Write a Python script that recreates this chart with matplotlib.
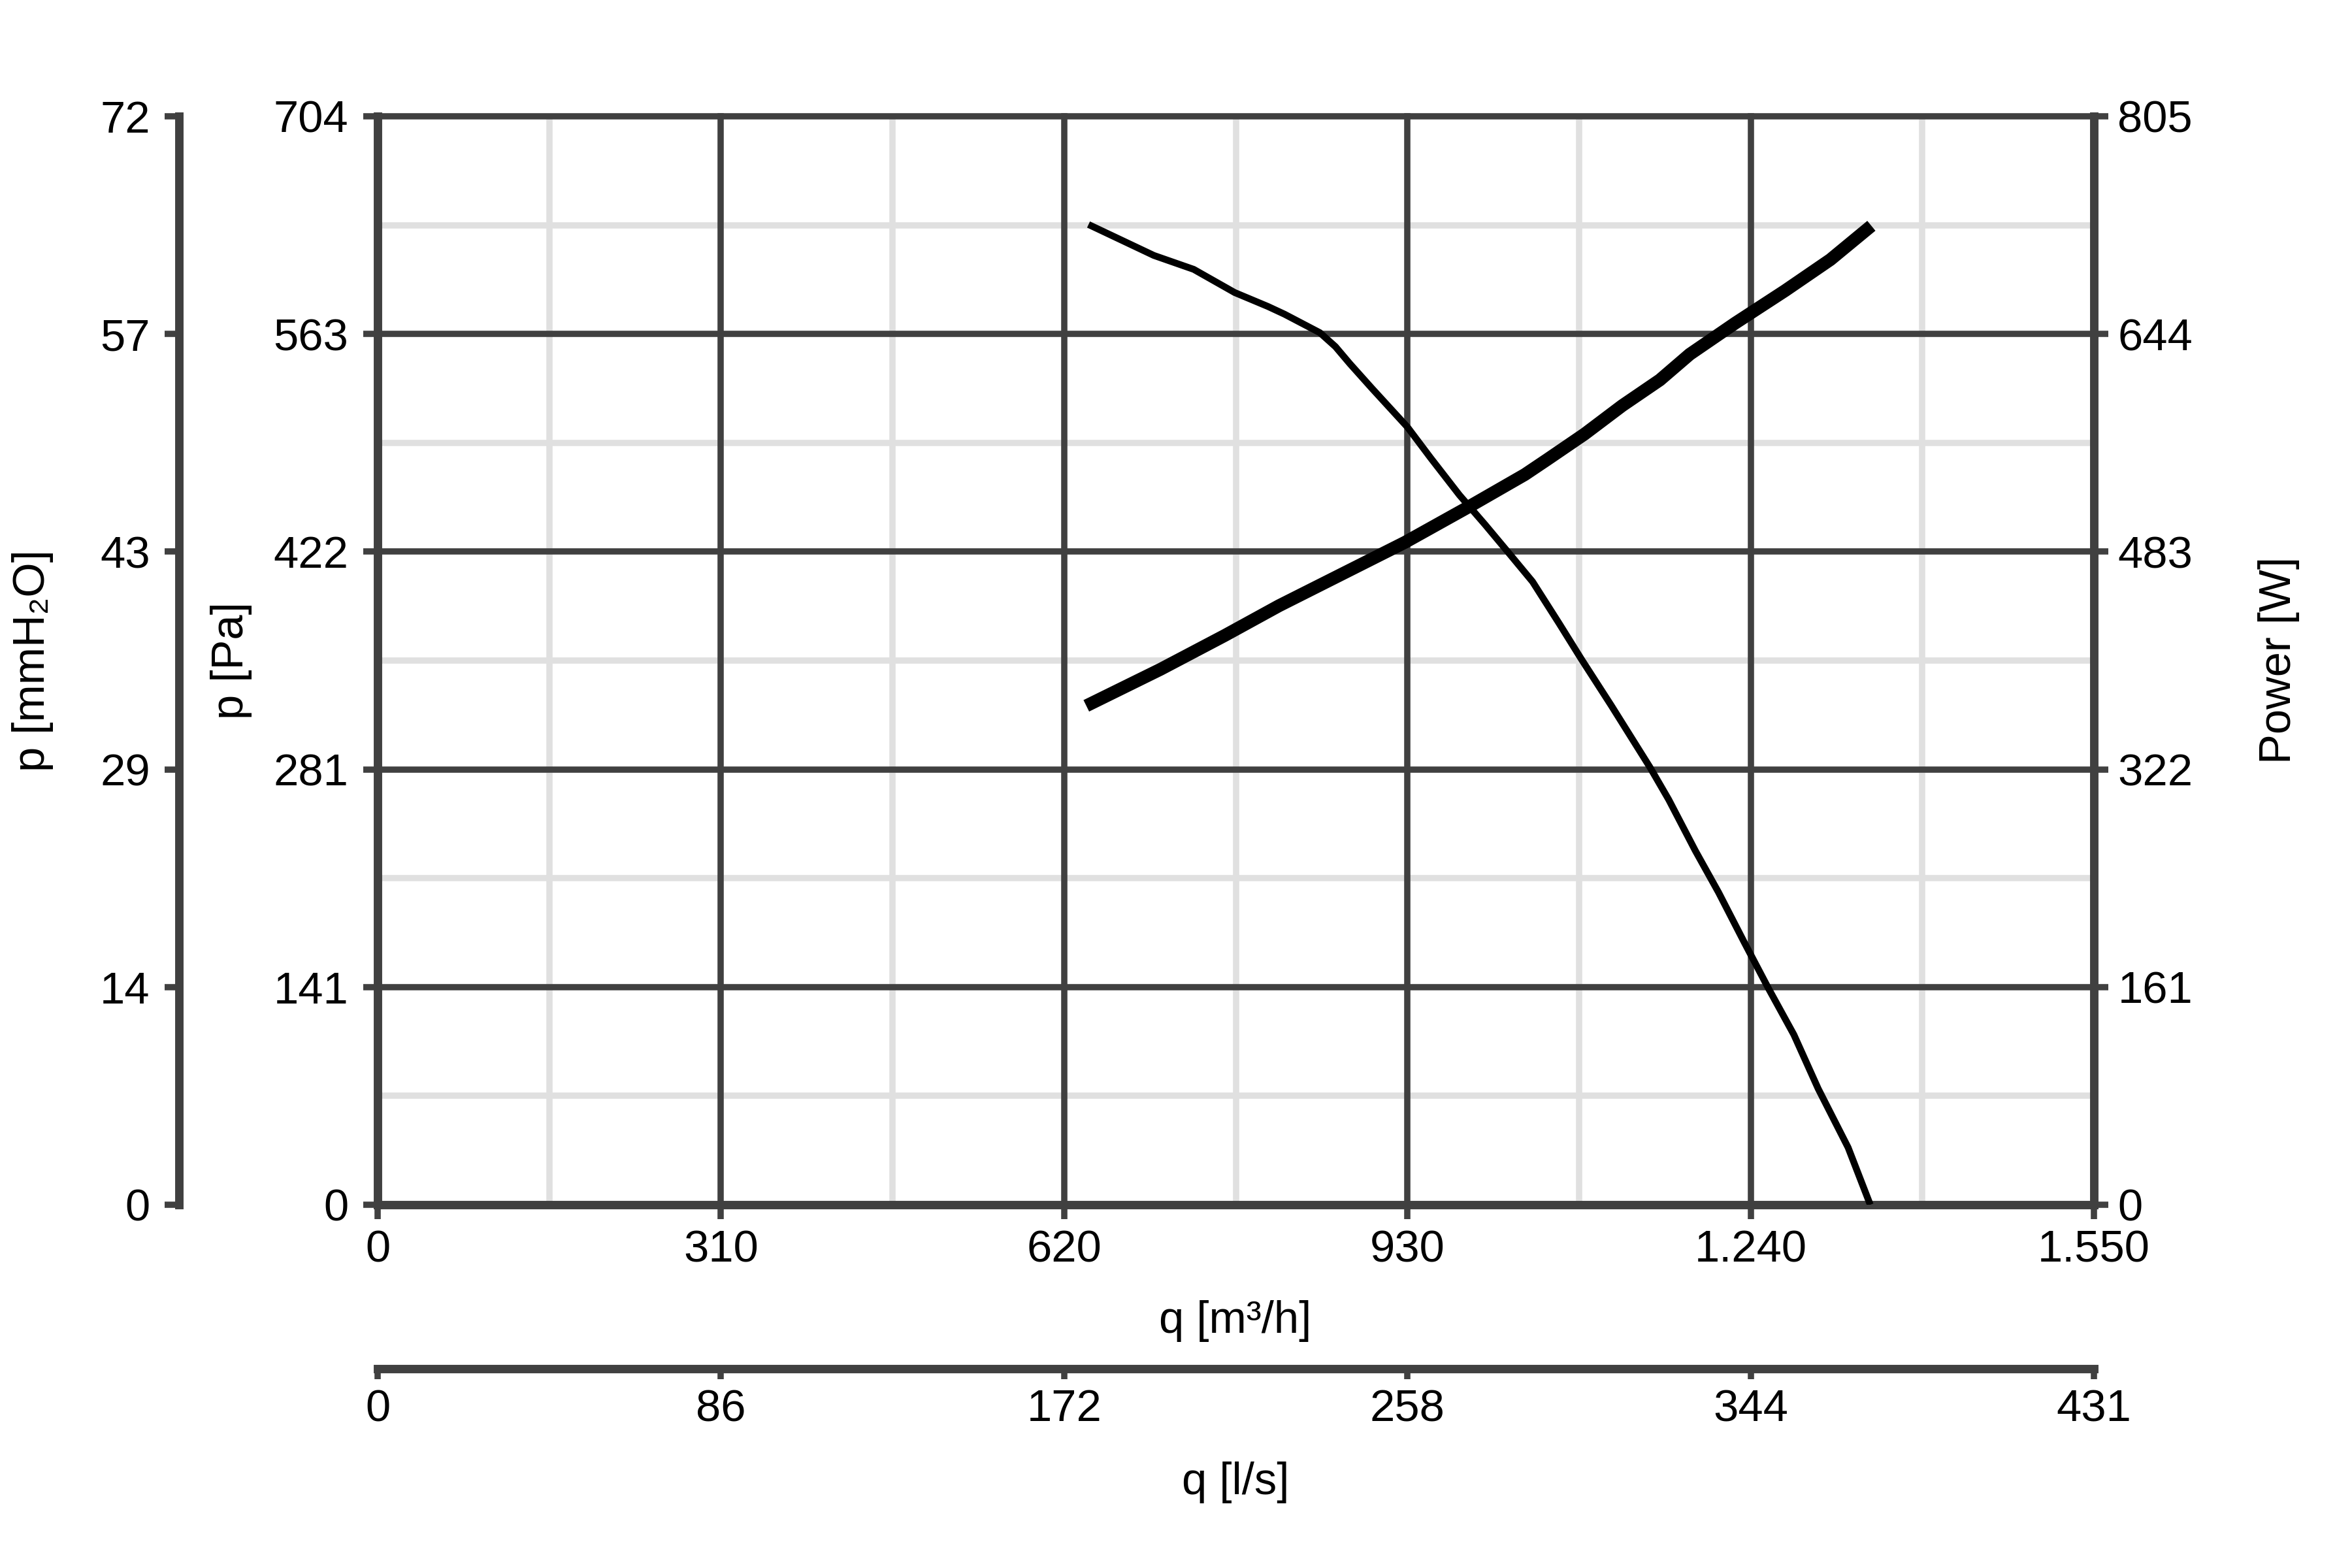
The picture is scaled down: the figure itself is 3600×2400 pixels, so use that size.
import matplotlib
matplotlib.use('Agg')
import matplotlib.pyplot as plt

plt.rcParams['font.family'] = ['Liberation Sans', 'DejaVu Sans']

# ---- data ----
flow_ticks = [0, 310, 620, 930, 1240, 1550]
flow_labels = ['0', '310', '620', '930', '1.240', '1.550']
flow_minor = [155, 465, 775, 1085, 1395]
ls_labels = ['0', '86', '172', '258', '344', '431']

pa_ticks = [0, 140.8, 281.6, 422.4, 563.2, 704]
pa_labels = ['0', '141', '281', '422', '563', '704']
pa_minor = [70.4, 211.2, 352.0, 492.8, 633.6]
mm_labels = ['0', '14', '29', '43', '57', '72']

power_ticks = [0, 161, 322, 483, 644, 805]
power_labels = ['0', '161', '322', '483', '644', '805']

pressure_q = [642, 701, 737, 774, 804, 819, 851, 865, 878, 898, 930, 951, 977,
              1000, 1021, 1043, 1067, 1087, 1114, 1149, 1166, 1190, 1211, 1234,
              1256, 1279, 1301, 1328, 1348]
pressure_pa = [634, 614, 605, 590, 581, 576, 564, 555, 544, 528, 503, 483, 459,
               440, 422, 403, 376, 353, 323, 283, 262, 229, 202, 170,
               140, 110, 75, 37, 0]

power_q = [640, 707, 765, 814, 928, 985, 1036, 1056, 1090, 1124, 1158, 1185,
           1226, 1271, 1312, 1349]
power_w = [369, 396, 421, 443, 490, 516, 540, 551, 570, 591, 610, 629,
           652, 676, 699, 724]

# ---- style ----
DARK = '#404040'
LIGHT = '#e0e0e0'
FS = 16.5
GRID_LW = 2.3
SPINE_LW = 3.1
TICK_LEN = 5.3

fig = plt.figure(figsize=(12, 8), dpi=300)
rect = [0.16056, 0.23167, 0.72972, 0.69417]

# background axes: light minor grid
axg = fig.add_axes(rect)
axg.set_xlim(0, 1550)
axg.set_ylim(0, 704)
axg.set_xticks(flow_minor)
axg.set_yticks(pa_minor)
axg.grid(True, color=LIGHT, lw=GRID_LW)
axg.tick_params(length=0, labelleft=False, labelbottom=False)
for s in axg.spines.values():
    s.set_visible(False)

# main axes
ax = fig.add_axes(rect, facecolor='none')
ax.set_xlim(0, 1550)
ax.set_ylim(0, 704)
ax.set_xticks(flow_ticks)
ax.set_xticklabels(flow_labels)
ax.set_yticks(pa_ticks)
ax.set_yticklabels(pa_labels)
ax.grid(True, color=DARK, lw=GRID_LW)
for gl in ax.get_ygridlines() + ax.get_xgridlines():
    gl.set_clip_on(False)
ax.tick_params(axis='both', direction='out', length=TICK_LEN, width=GRID_LW,
               color=DARK, labelsize=FS, labelcolor='black')
ax.tick_params(axis='y', pad=5.5)
ax.tick_params(axis='x', pad=3.6)
for side in ['top', 'right']:
    ax.spines[side].set_visible(False)
for side in ['left', 'bottom']:
    ax.spines[side].set_linewidth(SPINE_LW)
    ax.spines[side].set_color(DARK)
    ax.spines[side].set_capstyle('projecting')

ax.plot(pressure_q, pressure_pa, color='black', lw=2.5, solid_joinstyle='round',
        solid_capstyle='butt', zorder=3)

# power axis (right)
axp = ax.twinx()
axp.set_ylim(0, 805)
axp.set_yticks(power_ticks)
axp.set_yticklabels(power_labels)
axp.tick_params(axis='y', direction='out', length=TICK_LEN, width=GRID_LW,
                color=DARK, labelsize=FS, pad=3.4)
for side in ['top', 'left', 'bottom']:
    axp.spines[side].set_visible(False)
axp.spines['right'].set_linewidth(SPINE_LW)
axp.spines['right'].set_color(DARK)
axp.spines['right'].set_capstyle('projecting')
axp.plot(power_q, power_w, color='black', lw=4.7, solid_joinstyle='round',
         solid_capstyle='butt', zorder=3)

# mmH2O axis (far left)
axm = ax.twinx()
axm.set_ylim(0, 704)
axm.yaxis.set_ticks_position('left')
axm.yaxis.set_label_position('left')
axm.spines['left'].set_position(('axes', -0.1158))
axm.set_yticks(pa_ticks)
axm.set_yticklabels(mm_labels)
axm.tick_params(axis='y', direction='out', length=TICK_LEN, width=GRID_LW,
                color=DARK, labelsize=FS, pad=5.3)
for side in ['top', 'right', 'bottom']:
    axm.spines[side].set_visible(False)
axm.spines['left'].set_visible(True)
axm.spines['left'].set_linewidth(SPINE_LW)
axm.spines['left'].set_color(DARK)
axm.spines['left'].set_capstyle('projecting')

# l/s axis (bottom)
axl = ax.twiny()
axl.set_xlim(0, 1550)
axl.xaxis.set_ticks_position('bottom')
axl.xaxis.set_label_position('bottom')
axl.spines['bottom'].set_position(('axes', -0.1507))
axl.set_xticks(flow_ticks)
axl.set_xticklabels(ls_labels)
axl.tick_params(axis='x', direction='out', length=3.8, width=GRID_LW,
                color=DARK, labelsize=FS, pad=3.4)
for side in ['top', 'right', 'left']:
    axl.spines[side].set_visible(False)
axl.spines['bottom'].set_visible(True)
axl.spines['bottom'].set_linewidth(SPINE_LW)
axl.spines['bottom'].set_color(DARK)
axl.spines['bottom'].set_capstyle('projecting')

# axis labels
fig.text(0.5253, 0.1575, 'q [m³/h]', ha='center', va='center', fontsize=FS)
fig.text(0.5253, 0.0546, 'q [l/s]', ha='center', va='center', fontsize=FS)
fig.text(0.0139, 0.5788, 'p [mmH₂O]', ha='center', va='center', rotation=90,
         fontsize=FS)
fig.text(0.0983, 0.5788, 'p [Pa]', ha='center', va='center', rotation=90,
         fontsize=FS)
fig.text(0.9689, 0.5788, 'Power [W]', ha='center', va='center', rotation=90,
         fontsize=FS)

fig.savefig('out.png', dpi=300, facecolor='white')
